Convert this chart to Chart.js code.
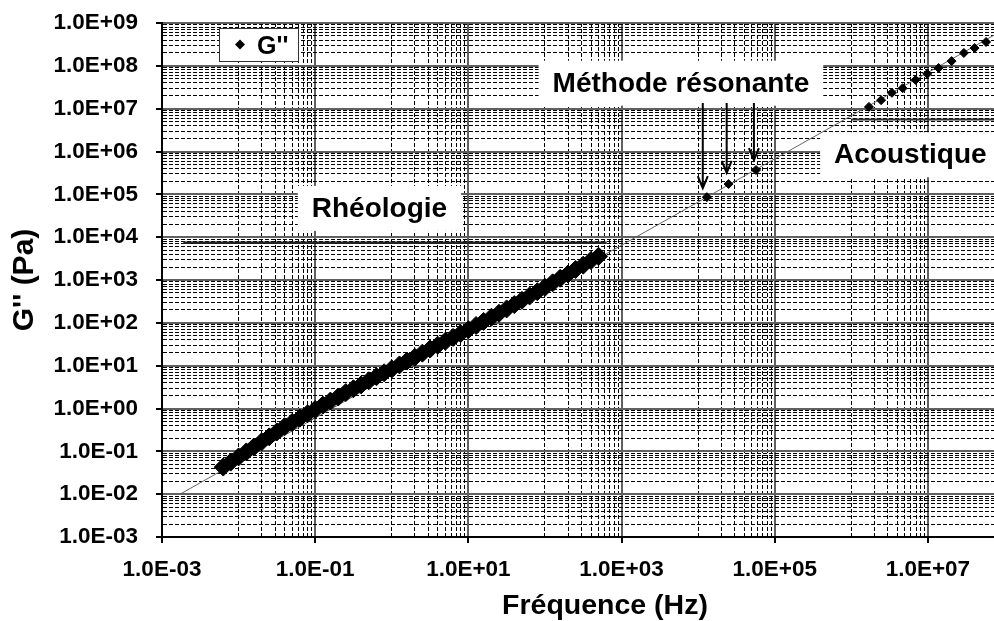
<!DOCTYPE html>
<html>
<head>
<meta charset="utf-8">
<script src="https://cdn.jsdelivr.net/npm/chart.js@4.4.1/dist/chart.umd.min.js"></script>
<style>
html, body { margin: 0; padding: 0; background: #fff; overflow: hidden; width: 994px; height: 621px; }
canvas { display: block; }
</style>
</head>
<body>
<canvas id="gChart" width="1048" height="621" style="width:1048px;height:621px"></canvas>
<script>
// G'' (Pa) against frequency (Hz)

// rheometer sweep (the thick band)
const rheoFreq = [0.0063, 0.0079, 0.010, 0.0126, 0.0158, 0.020, 0.0251, 0.0316, 0.0398, 0.0501,
    0.0631, 0.0794, 0.100, 0.126, 0.158, 0.200, 0.251, 0.316, 0.398, 0.501,
    0.631, 0.794, 1.00, 1.26, 1.58, 2.00, 2.51, 3.16, 3.98, 5.01,
    6.31, 7.94, 10.0, 12.6, 15.8, 20.0, 25.1, 31.6, 39.8, 50.1,
    63.1, 79.4, 100, 126, 158, 200, 251, 316, 398, 501];
const rheoG = [0.043, 0.056, 0.074, 0.097, 0.126, 0.167, 0.218, 0.284, 0.376, 0.473,
    0.597, 0.753, 0.95, 1.20, 1.49, 1.86, 2.35, 2.89, 3.56, 4.44,
    5.53, 6.82, 8.4, 10.4, 12.8, 15.7, 19.6, 24.4, 30.1, 37.1,
    45.7, 56.4, 69.3, 86.5, 108, 135, 167, 211, 267, 336,
    424, 534, 673, 859, 1100, 1380, 1760, 2220, 2840, 3570];

// resonant method
const resoFreq = [1.30e4, 2.5e4, 5.7e4];
const resoG = [8.6e4, 1.74e5, 3.7e5];

// acoustics
const acouFreq = [1.70e6, 2.45e6, 3.39e6, 4.68e6, 6.9e6, 9.8e6, 1.38e7, 2.04e7, 2.95e7, 4.07e7, 5.75e7];
const acouG = [1.10e7, 1.58e7, 2.34e7, 3.0e7, 4.7e7, 6.5e7, 8.9e7, 1.29e8, 2.0e8, 2.6e8, 3.6e8];

// thin power-law line
const trendFreq = [1.72e-3, 1.4e8];
const trendG = [1.0e-2, 1.0e9];

// range bars of each technique
const rheoRangeFreq = [1.9e-3, 6.4e2];
const rheoRangeG = [7.4e3, 7.4e3];
const acouRangeFreq = [1.0e6, 3.7e8];
const acouRangeG = [5.6e6, 5.6e6];

// arrows pointing at the resonant points
const arrowFreq = [1.15e4, 2.36e4, 5.35e4];
const arrowTopG = [1.36e7, 1.36e7, 1.36e7];
const arrowTipG = [1.40e5, 3.15e5, 6.3e5];

// text notes
const noteText = ['Rhéologie', 'Méthode résonante', 'Acoustique'];
const noteFreq = [0.69, 5.96e3, 5.9e6];
const noteG = [5.1e4, 4.27e7, 9.1e5];

// axes
const xTickValues = [1e-3, 1e-1, 1e1, 1e3, 1e5, 1e7];
const xTickLabels = ['1.0E-03', '1.0E-01', '1.0E+01', '1.0E+03', '1.0E+05', '1.0E+07'];
const yTickValues = [1e-3, 1e-2, 1e-1, 1e0, 1e1, 1e2, 1e3, 1e4, 1e5, 1e6, 1e7, 1e8, 1e9];
const yTickLabels = ['1.0E-03', '1.0E-02', '1.0E-01', '1.0E+00', '1.0E+01', '1.0E+02', '1.0E+03',
    '1.0E+04', '1.0E+05', '1.0E+06', '1.0E+07', '1.0E+08', '1.0E+09'];

const FONT = '"Liberation Sans", Arial, sans-serif';

function pts(xs, ys) {
    return xs.map((v, i) => ({ x: v, y: ys[i] }));
}

function findLabel(values, labels, v) {
    const i = values.findIndex(t => Math.abs(t - v) / t < 1e-6);
    return i >= 0 ? labels[i] : '';
}

// x grid: solid lines on labelled decades, dashed k*10^e on the others
function xGrid(scale) {
    let t = xTickValues.map(v => ({ value: v, major: true }));
    for (let e = -2; e <= 8; e += 2) {
        for (let k = 1; k <= 9; k++) t.push({ value: k * Math.pow(10, e), major: false });
    }
    t = t.filter(o => o.value >= scale.min * 0.9999 && o.value <= scale.max * 1.0001);
    t.sort((a, b) => a.value - b.value);
    scale.ticks = t;
}

function yGrid(scale) {
    let t = yTickValues.map(v => ({ value: v, major: true }));
    for (let e = -3; e <= 8; e++) {
        for (let k = 2; k <= 9; k++) t.push({ value: k * Math.pow(10, e), major: false });
    }
    t.sort((a, b) => a.value - b.value);
    scale.ticks = t;
}

// fixed axis sizes, and no extra room asked for the end labels
function fixBox(s, size) {
    if (s.isHorizontal()) s.height = size; else s.width = size;
    s.paddingTop = 0;
    s.paddingBottom = 0;
    s.paddingLeft = 0;
    s.paddingRight = 0;
}

const isMajor = c => c.tick && c.tick.major;

const gridOpts = {
    color: c => isMajor(c) ? '#606060' : '#000',
    lineWidth: c => isMajor(c) ? 2 : 1,
    tickColor: c => isMajor(c) ? '#000' : 'rgba(0,0,0,0)',
    tickLength: 6,
    tickWidth: 2,
};
const borderOpts = {
    display: true,
    color: '#000',
    width: 2,
    dash: c => (c.tick && !c.tick.major) ? [4, 2] : [],
};

const notes = {
    id: 'notes',
    beforeDatasetsDraw(chart) {
        const { ctx, scales: { x, y } } = chart;
        ctx.save();
        ctx.font = 'bold 28px ' + FONT;
        ctx.textAlign = 'center';
        ctx.textBaseline = 'alphabetic';
        noteText.forEach((t, i) => {
            const px = x.getPixelForValue(noteFreq[i]);
            const py = y.getPixelForValue(noteG[i]);
            const w = ctx.measureText(t).width;
            ctx.fillStyle = '#fff';
            ctx.fillRect(px - w / 2 - 14, py - 21, w + 28, 45);
            ctx.fillStyle = '#000';
            ctx.fillText(t, px, py + 10);
        });
        ctx.restore();
    },
    afterDatasetsDraw(chart) {
        const { ctx, chartArea: a, scales: { x, y } } = chart;
        ctx.save();
        // arrows
        ctx.strokeStyle = '#000';
        ctx.lineWidth = 2;
        arrowFreq.forEach((f, i) => {
            const ax = x.getPixelForValue(f);
            const y0 = y.getPixelForValue(arrowTopG[i]);
            const y1 = y.getPixelForValue(arrowTipG[i]);
            ctx.beginPath();
            ctx.moveTo(ax, y0);
            ctx.lineTo(ax, y1);
            ctx.moveTo(ax - 5, y1 - 12);
            ctx.lineTo(ax, y1);
            ctx.lineTo(ax + 5, y1 - 12);
            ctx.stroke();
        });
        // legend box
        const lx = a.left + 57, ly = a.top + 5;
        ctx.fillStyle = '#fff';
        ctx.fillRect(lx, ly, 79, 33);
        ctx.lineWidth = 1;
        ctx.strokeStyle = '#333';
        ctx.strokeRect(lx + 0.5, ly + 0.5, 79, 33);
        const mx = lx + 21, my = ly + 16.5, r = 5;
        ctx.fillStyle = '#000';
        ctx.beginPath();
        ctx.moveTo(mx - r, my);
        ctx.lineTo(mx, my - r);
        ctx.lineTo(mx + r, my);
        ctx.lineTo(mx, my + r);
        ctx.closePath();
        ctx.fill();
        ctx.font = 'bold 25px ' + FONT;
        ctx.textAlign = 'left';
        ctx.textBaseline = 'alphabetic';
        ctx.fillText(chart.data.datasets[0].label, lx + 38, ly + 25.5);
        ctx.restore();
    },
};

const gPoints = pts(rheoFreq, rheoG).concat(pts(resoFreq, resoG), pts(acouFreq, acouG));

let ctx = document.getElementById('gChart').getContext('2d');
let gChart = new Chart(ctx, {
    type: 'scatter',
    data: {
        datasets: [
            {
                label: "G''",
                data: gPoints,
                pointStyle: 'rectRot',
                pointRadius: c => (c.raw && c.raw.x < 1e3) ? 9 : 4.5,
                backgroundColor: '#000',
                borderColor: '#000',
                borderWidth: 1,
                showLine: false,
                order: 0,
            },
            {
                label: 'trend',
                data: pts(trendFreq, trendG),
                showLine: true,
                pointRadius: 0,
                borderColor: '#666',
                borderWidth: 1,
                order: 1,
            },
            {
                label: 'rheo range',
                data: pts(rheoRangeFreq, rheoRangeG),
                showLine: true,
                pointRadius: 0,
                borderColor: '#222',
                borderWidth: 2.5,
                order: 2,
            },
            {
                label: 'acou range',
                data: pts(acouRangeFreq, acouRangeG),
                showLine: true,
                pointRadius: 0,
                borderColor: '#333',
                borderWidth: 2,
                order: 3,
            },
        ],
    },
    options: {
        responsive: false,
        animation: false,
        devicePixelRatio: 1,
        events: [],
        layout: { autoPadding: false, padding: { top: 23, left: 0, right: 0, bottom: 0 } },
        plugins: {
            legend: { display: false },
            tooltip: { enabled: false },
        },
        scales: {
            x: {
                type: 'logarithmic',
                position: 'bottom',
                min: 1e-3,
                max: 3.7e8,
                afterBuildTicks: xGrid,
                afterFit: s => fixBox(s, 84),
                grid: gridOpts,
                border: borderOpts,
                ticks: {
                    autoSkip: false,
                    maxRotation: 0,
                    padding: 13,
                    color: '#000',
                    font: { family: FONT, size: 22.5, weight: 'bold' },
                    callback: v => findLabel(xTickValues, xTickLabels, v),
                },
                title: {
                    display: true,
                    text: 'Fréquence (Hz)',
                    color: '#000',
                    font: { family: FONT, size: 28.5, weight: 'bold', lineHeight: 1 },
                    padding: { top: 0, bottom: 1 },
                },
            },
            y: {
                type: 'logarithmic',
                position: 'left',
                min: 1e-3,
                max: 1e9,
                afterBuildTicks: yGrid,
                afterFit: s => fixBox(s, 162),
                grid: gridOpts,
                border: borderOpts,
                ticks: {
                    autoSkip: false,
                    padding: 18,
                    color: '#000',
                    font: { family: FONT, size: 22.5, weight: 'bold' },
                    callback: v => findLabel(yTickValues, yTickLabels, v),
                },
                title: {
                    display: true,
                    text: "G'' (Pa)",
                    color: '#000',
                    font: { family: FONT, size: 30, weight: 'bold' },
                    padding: { top: 7, bottom: 0 },
                },
            },
        },
    },
    plugins: [notes],
});
</script>
</body>
</html>
